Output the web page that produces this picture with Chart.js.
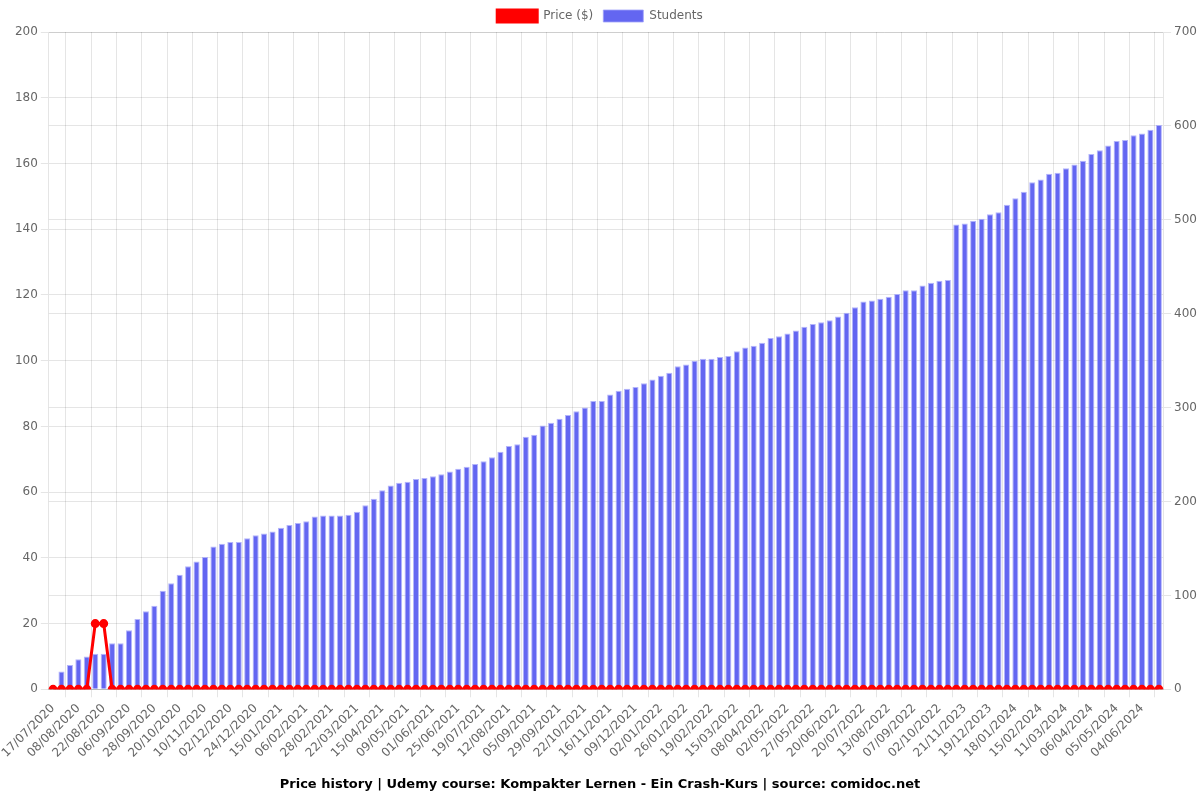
<!DOCTYPE html>
<html>
<head>
<meta charset="utf-8">
<script src="https://cdn.jsdelivr.net/npm/chart.js@4/dist/chart.umd.min.js"></script>
<style>
  html, body { margin: 0; padding: 0; background: #fff; }
  #wrap { width: 1200px; height: 800px; }
</style>
</head>
<body>
<div id="wrap"><canvas id="priceChart"></canvas></div>
<script>
const dates = [
  '17/07/2020', '25/07/2020', '01/08/2020', '08/08/2020', '13/08/2020', '17/08/2020',
  '22/08/2020', '27/08/2020', '01/09/2020', '06/09/2020', '14/09/2020', '21/09/2020',
  '28/09/2020', '05/10/2020', '13/10/2020', '20/10/2020', '27/10/2020', '03/11/2020',
  '10/11/2020', '17/11/2020', '25/11/2020', '02/12/2020', '09/12/2020', '17/12/2020',
  '24/12/2020', '31/12/2020', '08/01/2021', '15/01/2021', '22/01/2021', '30/01/2021',
  '06/02/2021', '13/02/2021', '21/02/2021', '28/02/2021', '07/03/2021', '15/03/2021',
  '22/03/2021', '30/03/2021', '07/04/2021', '15/04/2021', '23/04/2021', '01/05/2021',
  '09/05/2021', '16/05/2021', '24/05/2021', '01/06/2021', '09/06/2021', '17/06/2021',
  '25/06/2021', '03/07/2021', '11/07/2021', '19/07/2021', '27/07/2021', '04/08/2021',
  '12/08/2021', '20/08/2021', '28/08/2021', '05/09/2021', '13/09/2021', '21/09/2021',
  '29/09/2021', '06/10/2021', '14/10/2021', '22/10/2021', '30/10/2021', '08/11/2021',
  '16/11/2021', '24/11/2021', '01/12/2021', '09/12/2021', '17/12/2021', '25/12/2021',
  '02/01/2022', '10/01/2022', '18/01/2022', '26/01/2022', '03/02/2022', '11/02/2022',
  '19/02/2022', '27/02/2022', '07/03/2022', '15/03/2022', '23/03/2022', '31/03/2022',
  '08/04/2022', '16/04/2022', '24/04/2022', '02/05/2022', '10/05/2022', '19/05/2022',
  '27/05/2022', '04/06/2022', '12/06/2022', '20/06/2022', '30/06/2022', '10/07/2022',
  '20/07/2022', '28/07/2022', '05/08/2022', '13/08/2022', '22/08/2022', '30/08/2022',
  '07/09/2022', '15/09/2022', '24/09/2022', '02/10/2022', '30/10/2022', '01/11/2023',
  '21/11/2023', '30/11/2023', '10/12/2023', '19/12/2023', '29/12/2023', '08/01/2024',
  '18/01/2024', '27/01/2024', '05/02/2024', '15/02/2024', '23/02/2024', '02/03/2024',
  '11/03/2024', '19/03/2024', '28/03/2024', '06/04/2024', '16/04/2024', '25/04/2024',
  '05/05/2024', '15/05/2024', '25/05/2024', '04/06/2024', '14/06/2024', '24/06/2024'
]

const students = [
  0, 19, 26, 32, 35, 38, 38, 49, 49, 63, 75, 83,
  89, 105, 113, 122, 131, 136, 141, 152, 155, 157, 157, 161,
  164, 166, 168, 172, 175, 177, 179, 184, 185, 185, 185, 186,
  189, 196, 203, 212, 217, 220, 221, 224, 225, 227, 229, 232,
  235, 237, 240, 243, 247, 253, 259, 261, 269, 271, 281, 284,
  288, 292, 296, 300, 307, 307, 314, 318, 320, 322, 326, 330,
  334, 337, 344, 346, 350, 352, 352, 354, 355, 360, 364, 366,
  369, 374, 376, 379, 382, 386, 389, 391, 393, 397, 401, 407,
  413, 414, 416, 418, 421, 425, 425, 430, 433, 435, 436, 495,
  496, 499, 501, 506, 508, 516, 523, 530, 540, 543, 549, 550,
  555, 559, 563, 570, 574, 579, 584, 585, 590, 592, 596, 601
]

const prices = [
  0, 0, 0, 0, 0, 20, 20, 0, 0, 0, 0, 0,
  0, 0, 0, 0, 0, 0, 0, 0, 0, 0, 0, 0,
  0, 0, 0, 0, 0, 0, 0, 0, 0, 0, 0, 0,
  0, 0, 0, 0, 0, 0, 0, 0, 0, 0, 0, 0,
  0, 0, 0, 0, 0, 0, 0, 0, 0, 0, 0, 0,
  0, 0, 0, 0, 0, 0, 0, 0, 0, 0, 0, 0,
  0, 0, 0, 0, 0, 0, 0, 0, 0, 0, 0, 0,
  0, 0, 0, 0, 0, 0, 0, 0, 0, 0, 0, 0,
  0, 0, 0, 0, 0, 0, 0, 0, 0, 0, 0, 0,
  0, 0, 0, 0, 0, 0, 0, 0, 0, 0, 0, 0,
  0, 0, 0, 0, 0, 0, 0, 0, 0, 0, 0, 0
]

Chart.defaults.font.family = "'DejaVu Sans', sans-serif"
Chart.defaults.font.size = 12
Chart.defaults.color = '#666'

const context = document.getElementById('priceChart')

const chart = new Chart(context, {
  type: 'bar',
  data: {
    labels: dates,
    datasets: [{
      type: 'line',
      label: 'Price ($)',
      data: prices,
      yAxisID: 'y',
      borderColor: '#ff0000',
      backgroundColor: '#ff0000',
      borderWidth: 3,
      pointRadius: 3,
      pointBackgroundColor: '#ff0000',
      tension: 0,
    }, {
      label: 'Students',
      data: students,
      yAxisID: 'y1',
      backgroundColor: 'rgba(99, 102, 241, 1)',
      borderColor: 'rgba(160, 162, 250, 0.8)',
      borderWidth: 1,
    }],
  },
  options: {
    responsive: true,
    maintainAspectRatio: false,
    animation: false,
    plugins: {
      legend: {
        position: 'top',
        labels: { boxWidth: 40, boxHeight: 12 }
      },
      title: {
        display: true,
        position: 'bottom',
        text: 'Price history | Udemy course: Kompakter Lernen - Ein Crash-Kurs | source: comidoc.net',
        color: '#000',
        font: { size: 13, weight: 'bold' },
        padding: { top: 12, bottom: 8 }
      }
    },
    scales: {
      x: {
        ticks: { maxRotation: 45, minRotation: 45, padding: 4 }
      },
      y: {
        position: 'left',
        min: 0,
        max: 200,
        ticks: { stepSize: 20 }
      },
      y1: {
        position: 'right',
        min: 0,
        max: 700,
        ticks: { stepSize: 100 }
      }
    }
  }
})
</script>
</body>
</html>
